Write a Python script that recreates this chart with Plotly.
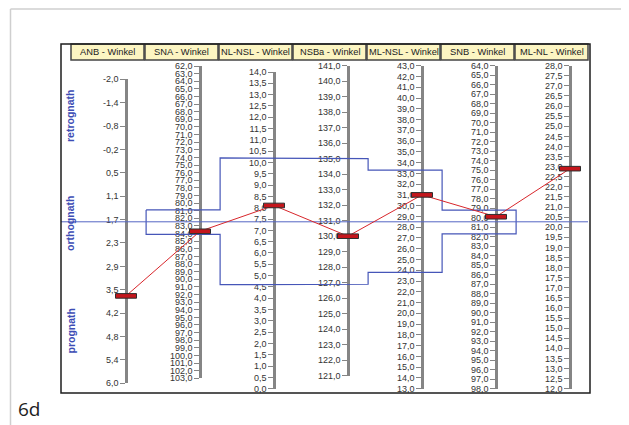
import numpy as np
import plotly.graph_objects as go

# ---------------- data ----------------
headers = ["ANB - Winkel", "SNA - Winkel", "NL-NSL - Winkel", "NSBa - Winkel",
           "ML-NSL - Winkel", "SNB - Winkel", "ML-NL - Winkel"]
# patient values (one per column)
values = [3.7, 83.7, 8.1, 130.0, 31.0, 79.9, 22.9]
# axis extents: value at the top / at the bottom of each scale
axis_top = [-2.0, 62.0, 14.0, 141.0, 43.0, 64.0, 28.0]
axis_bottom = [6.0, 103.0, 0.0, 121.0, 13.0, 98.0, 12.0]
tick_step = [None, 1.0, 0.5, 1.0, 1.0, 1.0, 0.5]
anb_ticktext = ["-2,0", "-1,4", "-0,8", "-0,2", "0,5", "1,1", "1,7",
                "2,3", "2,9", "3,5", "4,2", "4,8", "5,4", "6,0"]
# norm band (value at upper edge / lower edge), None where no band
norm_upper = [None, 80.9, 10.2, 135.0, 33.3, 79.2, None]
norm_lower = [None, 84.1, 4.6, 126.9, 23.8, 81.7, None]
mid_anb = 1.75
zone_labels = ["retrognath", "orthognath", "prognath"]
figure_label = "6d"

# ---------------- layout geometry (screen pixels) ----------------
SW, SH = 629, 425          # browser window
OFF = 8                    # default page margin of the html body
W, H = SW - OFF, SH - OFF  # figure size
BOX_L, BOX_R, BOX_T, BOX_B = 61, 590, 44, 393
ML, MR, MT, MB = BOX_L - OFF, SW - BOX_R, BOX_T - OFF, SH - BOX_B
PW, PH = BOX_R - BOX_L, BOX_B - BOX_T
COL0, COLW, AXOFF = 71, 74, 55
axis_px_top = [79.3, 66.0, 72.0, 65.7, 65.7, 65.7, 65.7]
axis_px_bottom = [383.3, 378.3, 388.7, 375.7, 388.7, 388.7, 388.7]

def py2paper(py):
    return (BOX_B - py) / PH

def px2paper(px):
    return (px - BOX_L) / PW

xmin, xmax = (BOX_L - COL0) / COLW, (BOX_R - COL0) / COLW
domains = [[py2paper(b), py2paper(t)] for t, b in zip(axis_px_top, axis_px_bottom)]
xpos = [k + AXOFF / COLW for k in range(7)]

def frac(k, v):
    d0, d1 = domains[k]
    return d0 + (v - axis_bottom[k]) / (axis_top[k] - axis_bottom[k]) * (d1 - d0)

FONT = "Liberation Sans, Arial, sans-serif"
BLUE = "#4656b8"
RED = "#d8262b"

fig = go.Figure()
layout = dict(
    width=W, height=H, autosize=False,
    margin=dict(l=ML, r=MR, t=MT, b=MB, pad=0),
    paper_bgcolor="white", plot_bgcolor="rgba(0,0,0,0)",
    showlegend=False, separators=",.",
    xaxis=dict(range=[xmin, xmax], domain=[0, 1], visible=False, fixedrange=True, anchor="y8"),
)

shapes = []
annotations = []
for k in range(7):
    yid = "y" if k == 0 else f"y{k+1}"
    lname = "yaxis" if k == 0 else f"yaxis{k+1}"
    if k == 0:
        tv = list(np.linspace(axis_top[0], axis_bottom[0], 14))
        tickcfg = dict(tickmode="array", tickvals=tv, ticktext=anb_ticktext)
    else:
        lo, hi = sorted([axis_top[k], axis_bottom[k]])
        tv = list(np.arange(lo, hi + tick_step[k] / 2, tick_step[k]))
        tickcfg = dict(tickmode="array", tickvals=tv, tickformat=".1f")
    layout[lname] = dict(
        domain=domains[k], range=[axis_bottom[k], axis_top[k]],
        anchor="free", position=px2paper(COL0 + COLW * k + AXOFF), side="left",
        showline=True, linecolor="#858585", linewidth=2.5,
        ticks="outside", ticklen=5, tickwidth=1, tickcolor="#858585",
        tickfont=dict(family=FONT, size=9, color="#333333"),
        showgrid=False, zeroline=False, fixedrange=True, layer="below traces",
        **tickcfg)
    # invisible anchor trace so the subplot exists
    fig.add_trace(go.Scatter(x=[xpos[k]], y=[values[k]], xaxis="x", yaxis=yid,
                             mode="markers", marker=dict(opacity=0),
                             hoverinfo="skip", showlegend=False))
    # header box
    shapes.append(dict(type="rect", xref="x", yref="paper",
                       x0=k, x1=k + 73 / COLW, y0=py2paper(60), y1=1.0,
                       fillcolor="#fcf5c2", line=dict(color="#444444", width=1.5),
                       layer="above"))
    annotations.append(dict(x=k + 36.5 / COLW, y=(py2paper(60) + 1) / 2, xref="x", yref="paper",
                            xanchor="center", yanchor="middle",
                            text=headers[k], showarrow=False,
                            font=dict(family=FONT, size=9.3, color="#222222")))
    # value marker
    shapes.append(dict(type="rect", xref="x", yref=yid,
                       xsizemode="pixel", xanchor=xpos[k], x0=-10.5, x1=10.5,
                       ysizemode="pixel", yanchor=values[k], y0=-2.3, y1=2.3,
                       fillcolor="#c4161c", line=dict(color="#2e2e2e", width=1),
                       layer="above"))

layout["yaxis8"] = dict(domain=[0, 1], range=[0, 1], visible=False, fixedrange=True,
                        anchor="x")

# norm band outline
band_cols = [k for k in range(7) if norm_upper[k] is not None]
EDGE = 0.015
bx, by = [], []
for k in band_cols:
    f = frac(k, norm_upper[k])
    bx += [k + EDGE, k + 1 + EDGE]
    by += [f, f]
for k in reversed(band_cols):
    f = frac(k, norm_lower[k])
    bx += [k + 1 + EDGE, k + EDGE]
    by += [f, f]
bx.append(bx[0]); by.append(by[0])
fig.add_trace(go.Scatter(x=bx, y=by, xaxis="x", yaxis="y8", mode="lines",
                         line=dict(color=BLUE, width=1.2), hoverinfo="skip"))
# middle line
fm = frac(0, mid_anb)
fig.add_trace(go.Scatter(x=[xmin, xmax - 2 / COLW], y=[fm, fm], xaxis="x", yaxis="y8", mode="lines",
                         line=dict(color="#5565c4", width=1), hoverinfo="skip"))
# profile line
fig.add_trace(go.Scatter(x=xpos, y=[frac(k, v) for k, v in enumerate(values)],
                         xaxis="x", yaxis="y8", mode="lines",
                         line=dict(color=RED, width=1), hoverinfo="skip"))

# chart frame
shapes.append(dict(type="rect", xref="paper", yref="paper", x0=0, x1=1, y0=0, y1=1,
                   line=dict(color="#1e1e1e", width=1.5), layer="above"))
# page decoration
shapes.append(dict(type="line", xref="paper", yref="paper",
                   x0=px2paper(10.5), x1=px2paper(10.5), y0=py2paper(9), y1=py2paper(SH),
                   line=dict(color="#cfcfcf", width=1.5), layer="below"))
shapes.append(dict(type="line", xref="paper", yref="paper",
                   x0=px2paper(10.5), x1=px2paper(SW), y0=py2paper(9), y1=py2paper(9),
                   line=dict(color="#cfcfcf", width=1.5), layer="below"))

# zone labels
for txt, cy in zip(zone_labels, [116, 224, 330.5]):
    annotations.append(dict(x=px2paper(70), y=py2paper(cy), xref="paper", yref="paper",
                            xanchor="center", yanchor="middle",
                            text=txt, textangle=-90, showarrow=False,
                            font=dict(family=FONT, size=10.5, color="#3d4db5", weight="bold")))
annotations.append(dict(x=px2paper(16), y=py2paper(409), xref="paper", yref="paper",
                        xanchor="left", yanchor="middle", text=figure_label, showarrow=False,
                        font=dict(family="Open Sans, sans-serif", size=19, color="#222222")))

layout["shapes"] = shapes
layout["annotations"] = annotations
fig.update_layout(**layout)
fig.write_html("out.html")
